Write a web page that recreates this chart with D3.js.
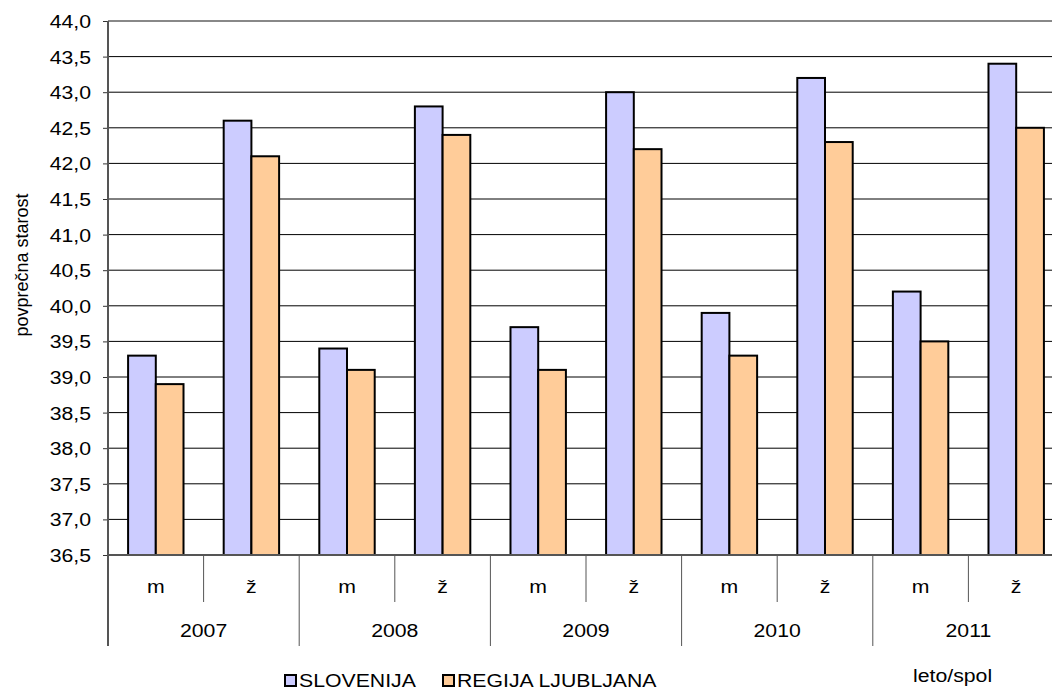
<!DOCTYPE html>
<html lang="sl">
<head>
  <meta charset="UTF-8">
  <title>Povprečna starost</title>
  <script src="https://cdn.jsdelivr.net/npm/d3@7"></script>
  <style>
    body { margin: 0; background: #fff; }
    svg { display: block; font-family: Arial, "Liberation Sans", sans-serif; }
  </style>
</head>
<body>
  <svg width="1052" height="692"></svg>
  <script>
    // data
    var years = ["2007", "2008", "2009", "2010", "2011"];
    var sexes = ["m", "ž"];
    var series = ["SLOVENIJA", "REGIJA LJUBLJANA"];
    var sloM = [39.3, 39.4, 39.7, 39.9, 40.2];
    var sloZ = [42.6, 42.8, 43.0, 43.2, 43.4];
    var ljM = [38.9, 39.1, 39.1, 39.3, 39.5];
    var ljZ = [42.1, 42.4, 42.2, 42.3, 42.5];
    var yTicks = d3.range(36.5, 44.01, 0.5);
    var colors = ["#ccccff", "#ffcc99"];

    var cats = [];
    years.forEach(function (yr, i) {
      cats.push({ key: yr + "-m", year: yr, sex: sexes[0], vals: [sloM[i], ljM[i]] });
      cats.push({ key: yr + "-ž", year: yr, sex: sexes[1], vals: [sloZ[i], ljZ[i]] });
    });

    var svg = d3.select("svg");
    var plotLeft = 108, plotRight = 1064, plotTop = 21, plotBottom = 555;
    var stretch = 1.18, fs = 18;

    var y = d3.scaleLinear().domain([36.5, 44]).range([plotBottom, plotTop]);
    var x0 = d3.scaleBand().domain(cats.map(function (d) { return d.key; })).range([plotLeft, plotRight]);
    var x1 = d3.scaleBand().domain(series).range([0, x0.bandwidth()]).paddingOuter(0.725);
    var xYear = d3.scaleBand().domain(years).range([plotLeft, plotRight]);

    // the reference text is a bit wider than plain Arial
    function widen(sel) {
      sel.each(function () {
        var w = this.getComputedTextLength();
        d3.select(this).attr("textLength", w * stretch).attr("lengthAdjust", "spacingAndGlyphs");
      });
    }

    // gridlines
    svg.append("g")
      .selectAll("line")
      .data(yTicks.slice(1, -1))
      .enter().append("line")
      .attr("x1", plotLeft).attr("x2", plotRight)
      .attr("y1", function (d) { return y(d); })
      .attr("y2", function (d) { return y(d); })
      .attr("stroke", "#000").attr("stroke-width", 1);
    svg.append("line")
      .attr("x1", plotLeft).attr("x2", plotRight)
      .attr("y1", y(44)).attr("y2", y(44))
      .attr("stroke", "#888").attr("stroke-width", 2);

    // bars
    var groups = svg.append("g").selectAll("g")
      .data(cats).enter().append("g")
      .attr("transform", function (d) { return "translate(" + x0(d.key) + ",0)"; });
    groups.selectAll("rect")
      .data(function (d) { return d.vals.map(function (v, i) { return { s: series[i], v: v, i: i }; }); })
      .enter().append("rect")
      .attr("x", function (d) { return x1(d.s); })
      .attr("y", function (d) { return y(d.v); })
      .attr("width", x1.bandwidth())
      .attr("height", function (d) { return y(36.5) - y(d.v); })
      .attr("fill", function (d) { return colors[d.i]; })
      .attr("stroke", "#000").attr("stroke-width", 2);

    // y axis
    var yAxis = svg.append("g")
      .attr("transform", "translate(" + plotLeft + ",0)")
      .call(d3.axisLeft(y).tickValues(yTicks).tickSize(5).tickPadding(12)
        .tickFormat(function (d) { return d3.format(".1f")(d).replace(".", ","); }));
    yAxis.select(".domain").remove();
    yAxis.selectAll(".tick line").attr("stroke", "#333");
    yAxis.selectAll("text").attr("font-size", fs).attr("fill", "#000").attr("dy", "0.36em")
      .call(widen);
    svg.append("line")
      .attr("x1", plotLeft).attr("x2", plotLeft).attr("y1", plotTop).attr("y2", 646)
      .attr("stroke", "#555").attr("stroke-width", 2);

    // x axis line
    svg.append("line")
      .attr("x1", plotLeft).attr("x2", plotRight).attr("y1", plotBottom).attr("y2", plotBottom)
      .attr("stroke", "#555").attr("stroke-width", 2);

    // category ticks and labels
    var xAxis = svg.append("g");
    xAxis.selectAll(".sexTick")
      .data(cats.slice(1))
      .enter().append("line")
      .attr("x1", function (d) { return x0(d.key); })
      .attr("x2", function (d) { return x0(d.key); })
      .attr("y1", plotBottom).attr("y2", function (d) { return d.sex === "m" ? 646 : 602; })
      .attr("stroke", "#555").attr("stroke-width", 1);
    xAxis.selectAll(".sexLabel")
      .data(cats).enter().append("text")
      .attr("x", function (d) { return x0(d.key) + x0.bandwidth() / 2; })
      .attr("y", 593)
      .attr("text-anchor", "middle").attr("font-size", fs)
      .text(function (d) { return d.sex; })
      .call(widen);
    xAxis.selectAll(".yearLabel")
      .data(years).enter().append("text")
      .attr("x", function (d) { return xYear(d) + xYear.bandwidth() / 2; })
      .attr("y", 637)
      .attr("text-anchor", "middle").attr("font-size", fs)
      .text(function (d) { return d; })
      .call(widen);

    // axis titles
    svg.append("text")
      .attr("transform", "translate(28,265) rotate(-90)")
      .attr("text-anchor", "middle").attr("font-size", fs)
      .text("povprečna starost");
    svg.append("text")
      .attr("x", 913).attr("y", 682).attr("font-size", fs)
      .text("leto/spol")
      .call(widen);

    // legend
    var legX = [285, 443];
    var leg = svg.append("g").selectAll("g")
      .data(series).enter().append("g")
      .attr("transform", function (d, i) { return "translate(" + legX[i] + ",675)"; });
    leg.append("rect")
      .attr("width", 11).attr("height", 11)
      .attr("fill", function (d, i) { return colors[i]; })
      .attr("stroke", "#000").attr("stroke-width", 2);
    leg.append("text")
      .attr("x", 14).attr("y", 12).attr("font-size", fs)
      .text(function (d) { return d; })
      .call(widen);
  </script>
</body>
</html>
